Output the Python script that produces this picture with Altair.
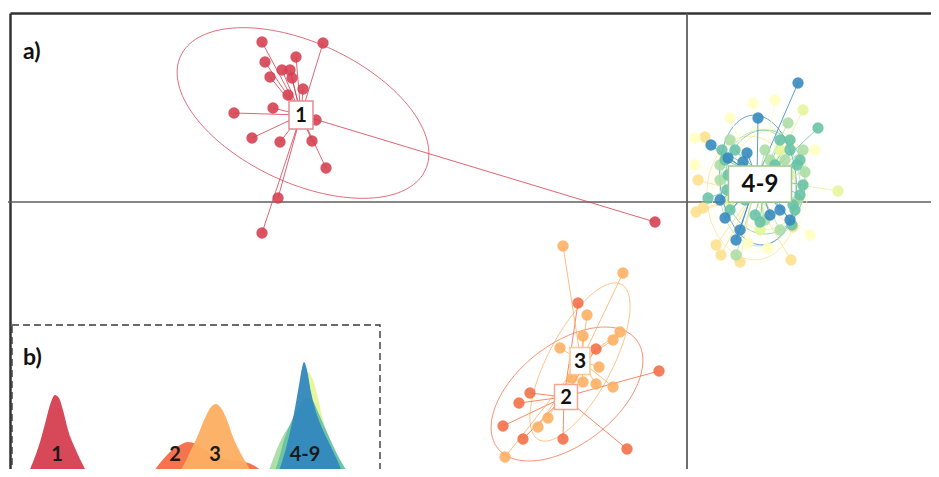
import altair as alt
import numpy as np
import pandas as pd

FONT = "Lato"
COLORS = ["#d53e4f", "#f46d43", "#fdae61", "#fee08b", "#ffffbf",
          "#e6f598", "#abdda4", "#66c2a5", "#3288bd"]
GROUPS = ["1", "2", "3", "4", "5", "6", "7", "8", "9"]

# ---- a) scatter of individuals on discriminant functions (LD1, LD2) ----
g1_ld1 = [-8.50, -7.28, -7.82, -8.44, -8.10, -7.94, -8.34, -7.90, -7.68, -7.98,
          -8.28, -9.06, -7.42, -8.70, -8.14, -7.50, -7.22, -8.18, -8.50, -0.64]
g1_ld2 = [3.20, 3.18, 2.90, 2.80, 2.64, 2.64, 2.50, 2.48, 2.26, 2.14,
          1.88, 1.78, 1.64, 1.28, 1.20, 1.22, 0.68, 0.08, -0.62, -0.40]
g2_ld1 = [-2.18, -1.82, -0.56, -3.14, -3.36, -3.68, -3.28, -2.48, -1.20]
g2_ld2 = [-2.02, -2.94, -3.38, -3.82, -4.02, -4.48, -4.74, -4.74, -4.94]
g3_ld1 = [-2.48, -1.28, -2.00, -1.34, -1.48, -2.08, -2.54, -1.76, -2.08, -1.82,
          -1.48, -2.78, -2.98, -3.64, -2.30]
g3_ld2 = [-0.88, -1.42, -2.26, -2.60, -2.76, -2.68, -2.92, -3.30, -3.60, -3.64,
          -3.70, -4.32, -4.50, -5.10, -3.52]
g4_ld1 = [0.36, 0.18, 0.32, 0.58, 0.68, 2.08, 2.12, 0.22, 1.06]
g4_ld2 = [1.30, -0.20, -0.12, -0.86, -1.06, -1.16, -0.50, 0.44, -1.20]
g5_ld1 = [1.32, 0.86, 0.16, 0.16, 1.22, 1.62, 2.46, 2.56, 1.76]
g5_ld2 = [1.98, 1.68, 1.28, 0.74, -0.82, -0.92, -0.66, 1.04, 2.04]
g6_ld1 = [2.32, 3.02, 1.86, 0.86, 2.06, 1.46]
g6_ld2 = [1.84, 0.22, 1.04, 0.04, 0.54, -0.56]
g7_ld1 = [0.98, 2.02, 0.66, 2.36, 1.56, 1.06, 1.86, 1.66, 0.66, 0.86, 2.32, 2.22, 1.56, 1.96]
g7_ld2 = [-1.06, 1.58, 0.74, 0.60, 1.04, 0.24, -0.56, 0.84, 0.44, 1.24, 1.04, 0.04, -0.36, 0.84]
g8_ld1 = [2.62, 0.42, 0.86, 2.16, 2.32, 2.06, 2.26, 0.70, 0.96, 1.76, 1.96, 1.46, 1.16, 2.10,
          0.76, 0.82, 0.80, 0.96, 2.06, 2.20, 2.26, 2.12, 1.36, 1.86]
g8_ld2 = [1.48, 0.08, -0.16, -0.16, 0.34, 1.24, 0.84, 1.04, 0.54, 0.74, 0.14, -0.40, 0.04, -0.46,
          0.84, 0.54, 0.24, 1.04, 1.04, 0.74, 0.14, -0.06, -0.26, 1.24]
g9_ld1 = [2.22, 1.42, 0.48, 0.82, 1.20, 1.12, 0.76, 1.06, 0.98, 1.86, 1.66, 0.66, 2.06]
g9_ld2 = [2.38, 1.68, 1.14, 0.88, 0.98, 0.80, -0.32, -0.56, -0.76, -0.16, -0.26, 0.04, -0.36]

cent_ld1 = [-7.72, -2.46, -2.12, 1.30, 1.46, 1.62, 1.40, 1.56, 1.40]
cent_ld2 = [1.74, -3.90, -3.18, 0.14, 0.24, 0.44, 0.34, 0.48, 0.48]

ell_ld1 = [-7.68, -2.40, -2.14, 1.30, 1.46, 1.62, 1.46, 1.56, 1.42]
ell_ld2 = [1.78, -3.84, -3.20, 0.08, 0.24, 0.44, 0.28, 0.40, 0.44]
ell_a = [2.70, 1.76, 1.76, 1.24, 1.24, 1.00, 1.16, 1.04, 1.30]
ell_b = [1.40, 1.00, 0.64, 0.90, 0.96, 0.76, 0.80, 0.80, 0.76]
ell_angle = [-25, 38, 62, 95, 85, 80, 88, 90, 95]

lab_text = ["1", "2", "3", "4-9"]
lab_ld1 = [-7.72, -2.42, -2.14, 1.46]
lab_ld2 = [1.74, -3.90, -3.18, 0.36]
lab_w = [24, 23, 20, 63]
lab_h = [28, 25, 27, 36]
lab_font = [20, 20, 21, 24]
lab_stroke = ["#e58a95", "#f6a58f", "#fbc795", "#a3c796"]

# ---- b) density of individuals along LD1 ----
d1_x = [-10.08, -9.48, -9.16, -8.88, -8.64, -8.44, -8.28, -8.12, -7.96, -7.76, -7.48, -7.16, -6.88, -6.48]
d1_y = [0, 0.03, 0.18, 0.38, 0.60, 0.78, 0.85, 0.82, 0.70, 0.50, 0.32, 0.15, 0.03, 0]
d2_x = [-4.88, -4.48, -4.08, -3.68, -3.28, -2.96, -2.64, -2.28, -1.88, -1.28, -0.68, -0.28, 0.12, 0.40]
d2_y = [0, 0.05, 0.17, 0.28, 0.35, 0.38, 0.36, 0.30, 0.24, 0.20, 0.18, 0.14, 0.06, 0]
d3_x = [-3.6, -3.2, -2.88, -2.56, -2.28, -2.04, -1.84, -1.64, -1.40, -1.16, -0.88, -0.56, -0.24]
d3_y = [0, 0.12, 0.28, 0.45, 0.62, 0.73, 0.76, 0.72, 0.60, 0.43, 0.28, 0.14, 0]
d4_x = [0.32, 0.92, 1.52, 1.92, 2.4, 3.04, 3.52]
d4_y = [0, 0.25, 0.42, 0.45, 0.38, 0.18, 0]
d5_x = [0.52, 1.04, 1.52, 1.84, 2.24, 2.8, 3.32]
d5_y = [0, 0.30, 0.55, 0.62, 0.52, 0.28, 0]
d6_x = [0.72, 1.12, 1.44, 1.68, 1.84, 2.04, 2.24, 2.44, 2.72, 3.12, 3.52]
d6_y = [0, 0.22, 0.60, 0.95, 1.08, 1.00, 0.82, 0.60, 0.40, 0.20, 0]
d7_x = [0.12, 0.40, 0.72, 1.04, 1.36, 1.68, 2.0, 2.32, 2.72, 3.2, 3.52]
d7_y = [0, 0.18, 0.38, 0.52, 0.62, 0.65, 0.60, 0.48, 0.30, 0.10, 0]
d8_x = [0.32, 0.64, 0.88, 1.2, 1.52, 1.76, 2.0, 2.24, 2.56, 2.92, 3.32, 3.72]
d8_y = [0, 0.18, 0.40, 0.60, 0.75, 0.82, 0.80, 0.68, 0.50, 0.30, 0.12, 0]
d9_x = [0.40, 0.68, 0.92, 1.12, 1.32, 1.48, 1.60, 1.68, 1.80, 1.96, 2.16, 2.40, 2.72, 3.04, 3.32]
d9_y = [0, 0.10, 0.28, 0.48, 0.72, 0.95, 1.12, 1.18, 1.10, 0.88, 0.68, 0.52, 0.35, 0.18, 0]

dens_lab_text = ["1", "2", "3", "4-9"]
dens_lab_x = [-8.20, -3.48, -1.88, 1.72]
dens_lab_y = [0.25, 0.25, 0.25, 0.25]

# ---------------------------------------------------------------------
X_DOM = [-13.58, 4.88]
Y_DOM = [-5.34, 3.88]
IX_DOM = [-10.16, 26.76]
IY_DOM = [0.11, 4.72]

xs = alt.Scale(domain=X_DOM, nice=False, zero=False)
ys = alt.Scale(domain=Y_DOM, nice=False, zero=False)
ixs = alt.Scale(domain=IX_DOM, nice=False, zero=False)
iys = alt.Scale(domain=IY_DOM, nice=False, zero=False)


def X(f):
    return alt.X(f, type="quantitative", scale=xs, axis=None)


def Y(f):
    return alt.Y(f, type="quantitative", scale=ys, axis=None)


pts_x = [g1_ld1, g2_ld1, g3_ld1, g4_ld1, g5_ld1, g6_ld1, g7_ld1, g8_ld1, g9_ld1]
pts_y = [g1_ld2, g2_ld2, g3_ld2, g4_ld2, g5_ld2, g6_ld2, g7_ld2, g8_ld2, g9_ld2]

pts_rows, star_rows = [], []
for gi, (xl, yl) in enumerate(zip(pts_x, pts_y)):
    for a, b in zip(xl, yl):
        pts_rows.append({"g": GROUPS[gi], "ld1": a, "ld2": b, "col": COLORS[gi]})
        star_rows.append({"g": GROUPS[gi], "ld1": cent_ld1[gi], "ld2": cent_ld2[gi],
                          "ld1e": a, "ld2e": b, "col": COLORS[gi]})
pts = pd.DataFrame(pts_rows)
stars = pd.DataFrame(star_rows)

t = np.linspace(0, 2 * np.pi, 145)
ell_rows = []
for gi in range(len(GROUPS)):
    th = np.deg2rad(ell_angle[gi])
    for i, tt in enumerate(t):
        ex = ell_ld1[gi] + ell_a[gi] * np.cos(tt) * np.cos(th) - ell_b[gi] * np.sin(tt) * np.sin(th)
        ey = ell_ld2[gi] + ell_a[gi] * np.cos(tt) * np.sin(th) + ell_b[gi] * np.sin(tt) * np.cos(th)
        ell_rows.append({"e": GROUPS[gi], "i": i, "ld1": ex, "ld2": ey, "col": COLORS[gi]})
ells = pd.DataFrame(ell_rows)

labs = pd.DataFrame({
    "txt": lab_text, "ld1": lab_ld1, "ld2": lab_ld2,
    "shape": [f"M-1,-{h / w:.4f}L1,-{h / w:.4f}L1,{h / w:.4f}L-1,{h / w:.4f}Z" for w, h in zip(lab_w, lab_h)],
    "size": [w * w for w in lab_w], "fs": lab_font, "stroke": lab_stroke,
})

frame = pd.DataFrame({
    "ld1": [-13.53, -13.53, X_DOM[0], 0.0],
    "ld2": [3.77, 3.77, 0.0, 3.77],
    "ld1e": [X_DOM[1], -13.53, X_DOM[1], 0.0],
    "ld2e": [3.77, Y_DOM[0], 0.0, Y_DOM[0]],
    "col": ["#333333", "#333333", "#5e5e5e", "#5e5e5e"],
    "w": [2.5, 2.5, 1.6, 1.8],
})

ellipse_layer = alt.Chart(ells).mark_line(strokeWidth=1, opacity=0.75, clip=True).encode(
    x=X("ld1"), y=Y("ld2"), detail="e:N", order="i:Q",
    color=alt.Color("col:N", scale=None))

star_layer = alt.Chart(stars).mark_rule(strokeWidth=1, opacity=0.8, clip=True).encode(
    x=X("ld1"), y=Y("ld2"), x2="ld1e:Q", y2="ld2e:Q",
    color=alt.Color("col:N", scale=None))

frame_layer = alt.Chart(frame).mark_rule(clip=True).encode(
    x=X("ld1"), y=Y("ld2"), x2="ld1e:Q", y2="ld2e:Q",
    color=alt.Color("col:N", scale=None),
    strokeWidth=alt.StrokeWidth("w:Q", scale=None))

point_layer = alt.Chart(pts).mark_circle(size=128, opacity=0.88, clip=True).encode(
    x=X("ld1"), y=Y("ld2"), color=alt.Color("col:N", scale=None))

box_layer = alt.Chart(labs).mark_point(fill="white", fillOpacity=1, strokeOpacity=1,
                                       strokeWidth=1.5, opacity=1).encode(
    x=X("ld1"), y=Y("ld2"),
    shape=alt.Shape("shape:N", scale=None),
    size=alt.Size("size:Q", scale=None),
    stroke=alt.Stroke("stroke:N", scale=None))

lab_layer = alt.Chart(labs).mark_text(font=FONT, fontWeight="bold", color="#111111",
                                      baseline="middle", dy=1).encode(
    x=X("ld1"), y=Y("ld2"), text="txt:N", size=alt.Size("fs:Q", scale=None))

a_layer = alt.Chart(pd.DataFrame({"ld1": [-13.28], "ld2": [2.86], "t": ["a)"]})).mark_text(
    font=FONT, fontWeight="bold", fontSize=23, align="left", baseline="alphabetic",
    color="#111111").encode(x=X("ld1"), y=Y("ld2"), text="t:N")

main = alt.layer(frame_layer, ellipse_layer, star_layer, point_layer, box_layer, lab_layer, a_layer)

# ---- inset ----


def IX(f):
    return alt.X(f, type="quantitative", scale=ixs, axis=None)


def IY(f):
    return alt.Y(f, type="quantitative", scale=iys, axis=None)


inset_box = alt.Chart(pd.DataFrame({"x": [-10.0], "x2": [4.72], "y": [1.55], "y2": [-0.2]})).mark_rect(
    fill="white", stroke="#3a3a3a", strokeWidth=1.4, strokeDash=[7, 4], clip=True).encode(
    x=IX("x"), x2="x2:Q", y=IY("y"), y2="y2:Q")

dens_x = [d1_x, d2_x, d3_x, d4_x, d5_x, d6_x, d7_x, d8_x, d9_x]
dens_y = [d1_y, d2_y, d3_y, d4_y, d5_y, d6_y, d7_y, d8_y, d9_y]
dens_layers = []
for gi in range(len(GROUPS)):
    df = pd.DataFrame({"x": dens_x[gi], "d": dens_y[gi], "base": [0.0] * len(dens_x[gi])})
    dens_layers.append(
        alt.Chart(df).mark_area(color=COLORS[gi], opacity=0.95, interpolate="monotone", clip=True).encode(
            x=IX("x"), y=IY("d"), y2="base:Q"))

dlab = pd.DataFrame({"x": dens_lab_x, "y": dens_lab_y, "t": dens_lab_text})
dlab_layer = alt.Chart(dlab).mark_text(font=FONT, fontWeight="bold", fontSize=20,
                                       color="#1a1a1a", baseline="middle").encode(
    x=IX("x"), y=IY("y"), text="t:N")

b_layer = alt.Chart(pd.DataFrame({"x": [-9.56], "y": [1.15], "t": ["b)"]})).mark_text(
    font=FONT, fontWeight="bold", fontSize=23, align="left", baseline="alphabetic",
    color="#111111").encode(x=IX("x"), y=IY("y"), text="t:N")

inset = alt.layer(inset_box, *dens_layers, dlab_layer, b_layer)

chart = alt.layer(main, inset).resolve_scale(x="independent", y="independent").properties(
    width=923, height=461, padding=0, background="white"
).configure_view(strokeWidth=0)

chart.save("out.html", embed_options={"renderer": "svg", "actions": False})
